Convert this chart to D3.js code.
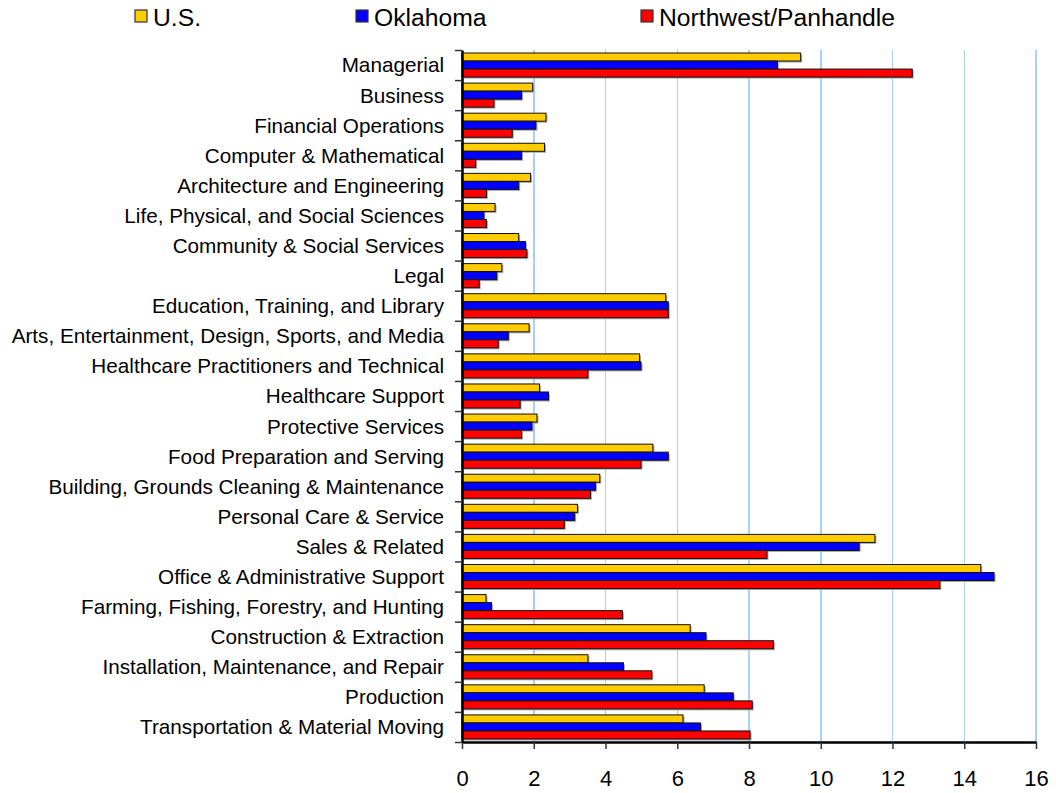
<!DOCTYPE html>
<meta charset="utf-8">
<style>
    body { margin: 0; background: #fff; }
    svg text { font-family: "Liberation Sans", Arial, sans-serif; fill: #000; }
</style>
<script src="https://cdn.jsdelivr.net/npm/d3@7"></script>
<div id="chart"></div>
<script>
    // data
    var categories = [
        "Managerial", "Business", "Financial Operations", "Computer & Mathematical",
        "Architecture and Engineering", "Life, Physical, and Social Sciences",
        "Community & Social Services", "Legal", "Education, Training, and Library",
        "Arts, Entertainment, Design, Sports, and Media",
        "Healthcare Practitioners and Technical", "Healthcare Support", "Protective Services",
        "Food Preparation and Serving", "Building, Grounds Cleaning & Maintenance",
        "Personal Care & Service", "Sales & Related", "Office & Administrative Support",
        "Farming, Fishing, Forestry, and Hunting", "Construction & Extraction",
        "Installation, Maintenance, and Repair", "Production", "Transportation & Material Moving"
    ];
    var seriesNames = ["U.S.", "Oklahoma", "Northwest/Panhandle"];
    var usValues = [9.44, 1.97, 2.34, 2.30, 1.91, 0.92, 1.58, 1.11, 5.68, 1.87, 4.95, 2.16, 2.09,
                    5.32, 3.84, 3.22, 11.51, 14.46, 0.67, 6.36, 3.51, 6.75, 6.16];
    var okValues = [8.79, 1.66, 2.06, 1.66, 1.58, 0.61, 1.77, 0.97, 5.75, 1.29, 4.99, 2.41, 1.95,
                    5.75, 3.72, 3.14, 11.07, 14.83, 0.82, 6.80, 4.50, 7.56, 6.65];
    var nwValues = [12.55, 0.89, 1.40, 0.38, 0.68, 0.68, 1.81, 0.48, 5.75, 1.01, 3.51, 1.62, 1.66,
                    4.99, 3.58, 2.85, 8.50, 13.32, 4.47, 8.68, 5.29, 8.09, 8.03];
    var xTicks = [0, 2, 4, 6, 8, 10, 12, 14, 16];
    var colors = ["#ffcc00", "#0000ff", "#ff0000"];

    var width = 1056, height = 793;
    var plotLeft = 462, plotRight = 1036, plotTop = 50, plotBottom = 742;

    var svg = d3.select("#chart").append("svg").attr("width", width).attr("height", height);

    var x = d3.scaleLinear().domain([0, 16]).range([plotLeft, plotRight]);
    var y = d3.scaleBand().domain(categories).range([plotTop, plotBottom]).paddingInner(0.2).paddingOuter(0.1);
    var sub = d3.scaleBand().domain(seriesNames).range([0, y.bandwidth()]);
    var yIdx = d3.scaleLinear().domain([0, categories.length]).range([plotTop, plotBottom]);

    // gridlines
    svg.append("g").selectAll("line").data(xTicks.slice(1)).join("line")
        .attr("x1", d => x(d)).attr("x2", d => x(d))
        .attr("y1", plotTop).attr("y2", plotBottom)
        .attr("stroke", "#a9d0fb").attr("stroke-width", 1.5)
        .attr("shape-rendering", "crispEdges");

    // bars
    var series = [usValues, okValues, nwValues];
    var groups = svg.append("g").selectAll("g").data(categories).join("g")
        .attr("transform", d => "translate(0," + y(d) + ")");
    seriesNames.forEach(function(name, s) {
        // shadow
        groups.append("rect")
            .attr("x", x(0) + 1.5).attr("y", sub(name) + 1.5)
            .attr("width", (d, i) => x(series[s][i]) - x(0)).attr("height", sub.bandwidth())
            .attr("fill", "#aaa");
        groups.append("rect")
            .attr("x", x(0)).attr("y", sub(name))
            .attr("width", (d, i) => x(series[s][i]) - x(0)).attr("height", sub.bandwidth())
            .attr("fill", colors[s]).attr("stroke", "#111").attr("stroke-width", 1);
    });

    // x axis
    var xAxis = svg.append("g").attr("transform", "translate(0," + plotBottom + ")")
        .call(d3.axisBottom(x).tickValues(xTicks).tickSize(7).tickSizeOuter(0));
    xAxis.select(".domain").attr("stroke", "#000").attr("stroke-width", 2.5);
    xAxis.selectAll(".tick line").attr("stroke", "#333").attr("stroke-width", 1.5);
    xAxis.selectAll(".tick text").attr("y", 36).attr("dy", "0.35em")
        .attr("font-size", "22px").attr("font-family", "'Liberation Sans', Arial, sans-serif");

    // y axis line + boundary ticks
    var yAxis = svg.append("g").attr("transform", "translate(" + plotLeft + ",0)")
        .call(d3.axisLeft(yIdx).tickValues(d3.range(categories.length + 1)).tickFormat("").tickSize(7).tickSizeOuter(0));
    yAxis.select(".domain").attr("stroke", "#000").attr("stroke-width", 2.5);
    yAxis.selectAll(".tick line").attr("stroke", "#333").attr("stroke-width", 1.5);

    // category labels
    svg.append("g").selectAll("text").data(categories).join("text")
        .attr("x", plotLeft - 18).attr("y", d => y(d) + y.bandwidth() / 2)
        .attr("dy", "0.36em").attr("text-anchor", "end")
        .attr("font-size", "20.7px")
        .text(d => d);

    // legend
    var legendX = [135, 356, 641];
    var legend = svg.append("g").selectAll("g").data(seriesNames).join("g")
        .attr("transform", (d, i) => "translate(" + legendX[i] + ",0)");
    legend.append("rect").attr("x", 0).attr("y", 10).attr("width", 12).attr("height", 12)
        .attr("fill", (d, i) => colors[i]).attr("stroke", "#333").attr("stroke-width", 1.2);
    legend.append("text").attr("x", 18).attr("y", 17).attr("dy", "0.35em")
        .attr("font-size", "24.7px").text(d => d);
</script>
